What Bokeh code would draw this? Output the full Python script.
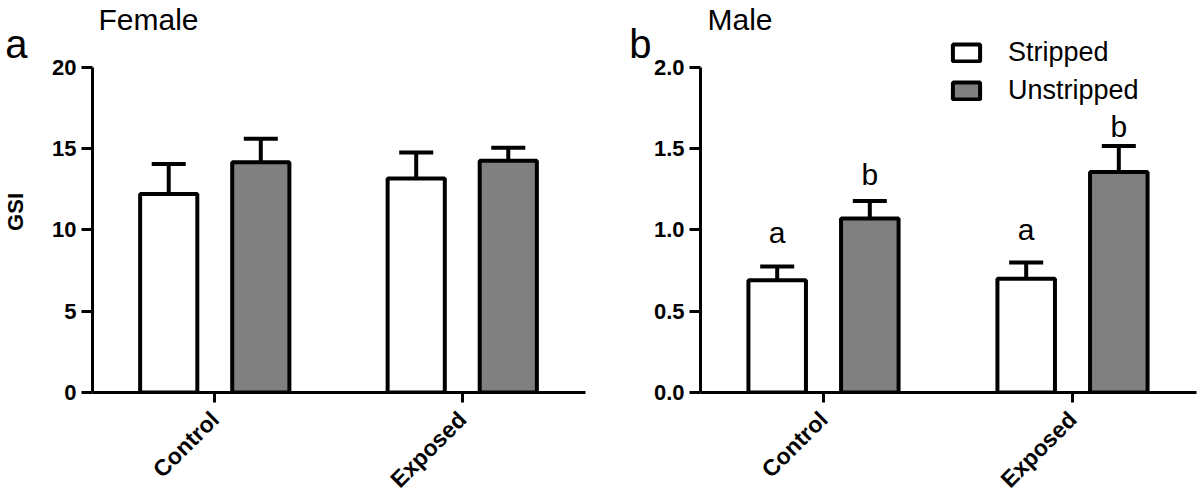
import numpy as np
from bokeh.plotting import figure
from bokeh.layouts import row
from bokeh.models import (ColumnDataSource, Whisker, TeeHead, FixedTicker, Label,
                          Legend, LegendItem, PrintfTickFormatter, Range1d, LinearAxis)
from bokeh.embed import file_html
from bokeh.resources import INLINE
from bokeh.core.properties import value

# ---------------- data ----------------
categories = ["Control", "Exposed"]
series = ["Stripped", "Unstripped"]

female_stripped = [12.2, 13.15]
female_stripped_err = [1.85, 1.6]
female_unstripped = [14.15, 14.25]
female_unstripped_err = [1.45, 0.8]

male_stripped = [0.69, 0.70]
male_stripped_err = [0.085, 0.10]
male_unstripped = [1.07, 1.355]
male_unstripped_err = [0.108, 0.16]

male_stripped_letters = ["a", "a"]
male_unstripped_letters = ["b", "b"]
male_stripped_letter_y = [0.985, 1.003]
male_unstripped_letter_y = [1.339, 1.633]

female_ticks = [0, 5, 10, 15, 20]
male_ticks = [0.0, 0.5, 1.0, 1.5, 2.0]

panel_letters = ["a", "b"]
panel_titles = ["Female", "Male"]
y_label = "GSI"

FONT = "Liberation Sans"
FILL = {"Stripped": "#ffffff", "Unstripped": "#808080"}
OFFSET = 0.186
BAR_W = 0.231
H = 504


def bare_axis(pos, text, ytop, standoff, size, bold=False, orientation="horizontal"):
    """An axis with no line or ticks that carries a single text label."""
    return LinearAxis(ticker=FixedTicker(ticks=[pos]),
                      bounds=(pos - 0.001 * ytop, pos + 0.001 * ytop),
                      major_label_overrides={pos: text},
                      axis_line_color=None, major_tick_line_color=None,
                      minor_tick_line_color=None, major_tick_out=0, major_tick_in=0,
                      major_label_standoff=standoff,
                      major_label_orientation=orientation,
                      major_label_text_font=FONT, major_label_text_font_size=size,
                      major_label_text_font_style="bold" if bold else "normal",
                      major_label_text_baseline="middle",
                      major_label_text_line_height=1.0,
                      major_label_text_color="black")


def make_panel(stripped, s_err, unstripped, u_err, ticks, ymax_axis, ytop,
               xend, width, border_left, border_right, letter,
               letter_standoff, title, title_x, ylabel=None, fmt=None):
    p = figure(width=width, height=H, output_backend="svg", toolbar_location=None,
               x_range=Range1d(0.506, xend), y_range=Range1d(0, ytop),
               min_border_left=border_left, min_border_right=border_right,
               min_border_top=0, min_border_bottom=112)
    p.outline_line_color = None
    p.xgrid.visible = False
    p.ygrid.visible = False
    p.background_fill_color = "white"
    p.border_fill_color = "white"

    idx = np.arange(1, len(categories) + 1)
    renderers = []
    for name, vals, errs, sign in [("Stripped", stripped, s_err, -1),
                                   ("Unstripped", unstripped, u_err, 1)]:
        xs = idx + sign * OFFSET
        src = ColumnDataSource(dict(x=xs, top=vals,
                                    upper=np.array(vals) + np.array(errs)))
        w = Whisker(source=src, base="x", upper="upper", lower="top",
                    line_width=4, line_color="black",
                    upper_head=TeeHead(size=34, line_width=4, line_color="black"),
                    lower_head=None, level="underlay")
        p.add_layout(w)
        r = p.vbar(x="x", top="top", width=BAR_W, source=src,
                   fill_color=FILL[name], line_color="black", line_width=4)
        renderers.append(r)

    xa = p.xaxis[0]
    xa.ticker = FixedTicker(ticks=list(idx))
    xa.major_label_overrides = {int(i): c for i, c in zip(idx, categories)}
    xa.major_label_orientation = np.pi / 4
    xa.major_label_text_font = FONT
    xa.major_label_text_font_style = "bold"
    xa.major_label_text_font_size = "23px"
    xa.major_label_text_color = "black"
    xa.axis_line_width = 3
    xa.major_tick_line_width = 3
    xa.major_tick_out = 10
    xa.major_tick_in = 0
    xa.minor_tick_line_color = None
    xa.major_label_standoff = 13

    ya = p.yaxis[0]
    ya.ticker = FixedTicker(ticks=ticks)
    ya.bounds = (0, ymax_axis)
    if fmt:
        ya.formatter = PrintfTickFormatter(format=fmt)
    ya.major_label_text_font = FONT
    ya.major_label_text_font_style = "bold"
    ya.major_label_text_font_size = "22px"
    ya.major_label_text_color = "black"
    ya.axis_line_width = 3
    ya.major_tick_line_width = 3
    ya.major_tick_out = 11
    ya.major_tick_in = 0
    ya.minor_tick_line_color = None
    ya.major_label_standoff = 5

    if ylabel:
        p.add_layout(bare_axis(ylabel[1], ylabel[0], ytop, 21, "22px", bold=True,
                               orientation="vertical"), "left")

    # panel letter, at the very top of the frame
    p.add_layout(bare_axis(ytop * 0.998, letter, ytop, letter_standoff, "40px"), "left")

    p.add_layout(Label(x=title_x, y=373, x_units="screen", y_units="screen",
                       text=title, text_font=FONT, text_font_size="30px",
                       text_baseline="middle", text_color="black"))
    return p, renderers


p1, _ = make_panel(female_stripped, female_stripped_err, female_unstripped,
                   female_unstripped_err, female_ticks, 20, 24.1, 2.498,
                   600, 89, 15, panel_letters[0], -27,
                   panel_titles[0], 6, ylabel=(y_label, 11.1))

p2, rs = make_panel(male_stripped, male_stripped_err, male_unstripped,
                    male_unstripped_err, male_ticks, 2.0, 2.41, 2.498,
                    600, 100, 4, panel_letters[1], -1,
                    panel_titles[1], 7, fmt="%.1f")

idx = np.arange(1, len(categories) + 1)
txt_src = ColumnDataSource(dict(
    x=list(idx - OFFSET) + list(idx + OFFSET),
    y=male_stripped_letter_y + male_unstripped_letter_y,
    t=male_stripped_letters + male_unstripped_letters))
p2.text(x="x", y="y", text="t", source=txt_src, text_font=value(FONT),
        text_font_size="30px", text_align="center", text_baseline="middle",
        text_color="black")

legend = Legend(items=[LegendItem(label=series[0], renderers=[rs[0]]),
                       LegendItem(label=series[1], renderers=[rs[1]])],
                location=(249, 286), padding=0, margin=0, spacing=7,
                glyph_width=34, glyph_height=21, label_standoff=25,
                label_text_font=FONT, label_text_font_size="27px",
                label_text_color="black", border_line_alpha=0,
                background_fill_alpha=0)
p2.add_layout(legend)

layout = row(p1, p2)
open("out.html", "w").write(file_html(layout, INLINE))
